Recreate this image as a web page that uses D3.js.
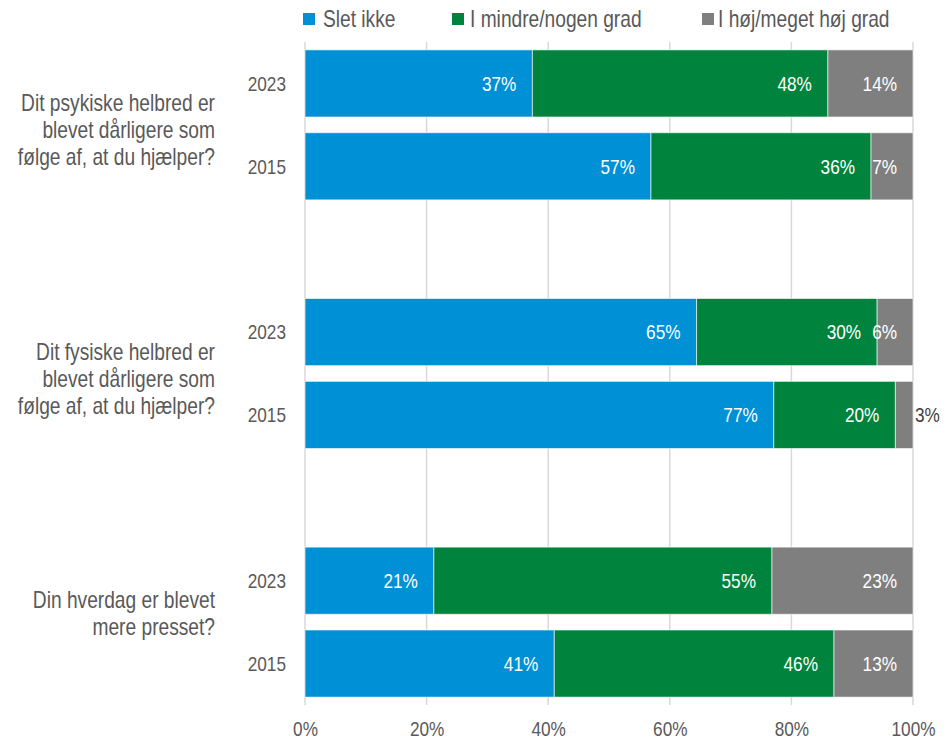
<!DOCTYPE html>
<html>
<head>
<meta charset="utf-8">
<script src="https://cdn.jsdelivr.net/npm/d3@7"></script>
<style>
  body { margin: 0; background: #fff; }
  svg text { font-family: "Liberation Sans Narrow", "Arial Narrow", "Liberation Sans", Arial, sans-serif; }
</style>
</head>
<body>
<div id="chart"></div>
<script>
// questions, each split in lines as in the chart
var questions = [
	["Dit psykiske helbred er", "blevet dårligere som", "følge af, at du hjælper?"],
	["Dit fysiske helbred er", "blevet dårligere som", "følge af, at du hjælper?"],
	["Din hverdag er blevet", "mere presset?"]
];
var years = ["2023", "2015"];
var seriesNames = ["Slet ikke", "I mindre/nogen grad", "I høj/meget høj grad"];
var seriesColors = ["#0090d6", "#00843d", "#7f7f7f"];

// shares in %, row order: q1 2023, q1 2015, q2 2023, q2 2015, q3 2023, q3 2015
var sletIkke = [37.4, 56.9, 64.4, 77.1, 21.2, 41.0];
var mindre   = [48.6, 36.2, 29.7, 20.0, 55.6, 46.0];
var hoej     = [14.0, 6.9, 5.9, 2.9, 23.2, 13.0];

// labels as printed in the chart
var sletLabels   = ["37%", "57%", "65%", "77%", "21%", "41%"];
var mindreLabels = ["48%", "36%", "30%", "20%", "55%", "46%"];
var hoejLabels   = ["14%", "7%", "6%", "3%", "23%", "13%"];

var xTicks = [0, 20, 40, 60, 80, 100];

var width = 950, height = 742;
var plot = {left: 305, right: 913, top: 42, bottom: 705};
var textColor = "#595959";
var numSize = "21px";
var textSize = "23.4px";
// no narrow font installed: squeeze the regular one horizontally
var squeeze = 0.82;

var svg = d3.select("#chart").append("svg")
	.attr("width", width)
	.attr("height", height);

// place text at x through a transform so it can be squeezed
function narrow(sel, xFn){
	sel.attr("x", 0)
	   .attr("transform", function(d, i){
			return "translate(" + xFn(d, i) + ",0) scale(" + squeeze + ",1)";
	   });
}

// rows: two bars per question plus an empty row between questions
var rowKeys = [];
questions.forEach(function(q, i){
	if(i > 0) rowKeys.push("gap" + i);
	years.forEach(function(y){ rowKeys.push(i + "-" + y); });
});

var y = d3.scaleBand()
	.domain(rowKeys)
	.range([plot.top, plot.bottom])
	.paddingInner(0.19)
	.paddingOuter(0.095);

var x = d3.scaleLinear()
	.domain([0, 100])
	.range([plot.left, plot.right]);

// gridlines
svg.append("g").selectAll("line")
	.data(xTicks)
	.enter()
	.append("line")
	.attr("x1", function(d){ return x(d); })
	.attr("x2", function(d){ return x(d); })
	.attr("y1", plot.top)
	.attr("y2", plot.bottom)
	.attr("stroke", "#d9d9d9")
	.attr("stroke-width", 1.5);

// x axis tick labels
var xAxis = d3.axisBottom(x)
	.tickValues(xTicks)
	.tickFormat(function(d){ return d + "%"; })
	.tickSize(0)
	.tickPadding(16);

var axisG = svg.append("g")
	.attr("transform", "translate(0," + plot.bottom + ")")
	.call(xAxis)
	.attr("font-family", null);
axisG.select(".domain").remove();
axisG.selectAll("text")
	.attr("fill", textColor)
	.attr("transform", "scale(" + squeeze + ",1)")
	.style("font-size", numSize);

// stacked data
var rows = [];
var seriesVals = [sletIkke, mindre, hoej];
var seriesLabels = [sletLabels, mindreLabels, hoejLabels];
questions.forEach(function(q, qi){
	years.forEach(function(yr, yi){
		var idx = qi * years.length + yi;
		var acc = 0;
		seriesVals.forEach(function(vals, si){
			rows.push({
				key: qi + "-" + yr,
				series: si,
				x0: acc,
				x1: acc + vals[idx],
				label: seriesLabels[si][idx]
			});
			acc += vals[idx];
		});
	});
});

function tiny(d){ return (x(d.x1) - x(d.x0)) < 25; }

var barG = svg.append("g");
barG.selectAll("rect")
	.data(rows)
	.enter()
	.append("rect")
	.attr("x", function(d){ return x(d.x0); })
	.attr("width", function(d){ return x(d.x1) - x(d.x0); })
	.attr("y", function(d){ return y(d.key); })
	.attr("height", y.bandwidth())
	.attr("fill", function(d){ return seriesColors[d.series]; })
	.attr("stroke", "rgba(255,255,255,0.6)")
	.attr("stroke-width", 1);

// value labels (inside end, or just outside when the segment is tiny)
barG.selectAll("text")
	.data(rows)
	.enter()
	.append("text")
	.attr("text-anchor", function(d){ return tiny(d) ? "start" : "end"; })
	.attr("y", function(d){ return y(d.key) + y.bandwidth() / 2; })
	.attr("dy", "0.35em")
	.attr("fill", function(d){ return tiny(d) ? "#404040" : "#ffffff"; })
	.style("font-size", numSize)
	.text(function(d){ return d.label; })
	.call(narrow, function(d){ return tiny(d) ? x(d.x1) + 2 : x(d.x1) - 16; });

// year labels
var yearRows = [];
questions.forEach(function(q, qi){
	years.forEach(function(yr){ yearRows.push({key: qi + "-" + yr, text: yr}); });
});
svg.append("g").selectAll("text")
	.data(yearRows)
	.enter()
	.append("text")
	.attr("y", function(d){ return y(d.key) + y.bandwidth() / 2; })
	.attr("dy", "0.35em")
	.attr("text-anchor", "end")
	.attr("fill", textColor)
	.style("font-size", numSize)
	.text(function(d){ return d.text; })
	.call(narrow, function(){ return 286; });

// question labels
var qG = svg.append("g");
questions.forEach(function(lines, qi){
	var top = y(qi + "-" + years[0]);
	var t = qG.append("text")
		.attr("text-anchor", "end")
		.attr("fill", textColor)
		.style("font-size", textSize)
		.attr("transform", "translate(215,0) scale(" + squeeze + ",1)");
	lines.forEach(function(line, li){
		t.append("tspan")
			.attr("x", 0)
			.attr("y", top + 53 + li * 27)
			.attr("dy", "0.35em")
			.text(line);
	});
});

// legend
var legendX = [303, 452, 702];
var legendGap = [20, 18, 16];
var legend = svg.append("g").selectAll("g")
	.data(seriesNames)
	.enter()
	.append("g")
	.attr("transform", function(d, i){ return "translate(" + legendX[i] + ",0)"; });
legend.append("rect")
	.attr("y", 13)
	.attr("width", 12)
	.attr("height", 12)
	.attr("fill", function(d, i){ return seriesColors[i]; });
legend.append("text")
	.attr("y", 19)
	.attr("dy", "0.35em")
	.attr("fill", textColor)
	.style("font-size", textSize)
	.text(function(d){ return d; })
	.call(narrow, function(d, i){ return legendGap[i]; });
</script>
</body>
</html>
